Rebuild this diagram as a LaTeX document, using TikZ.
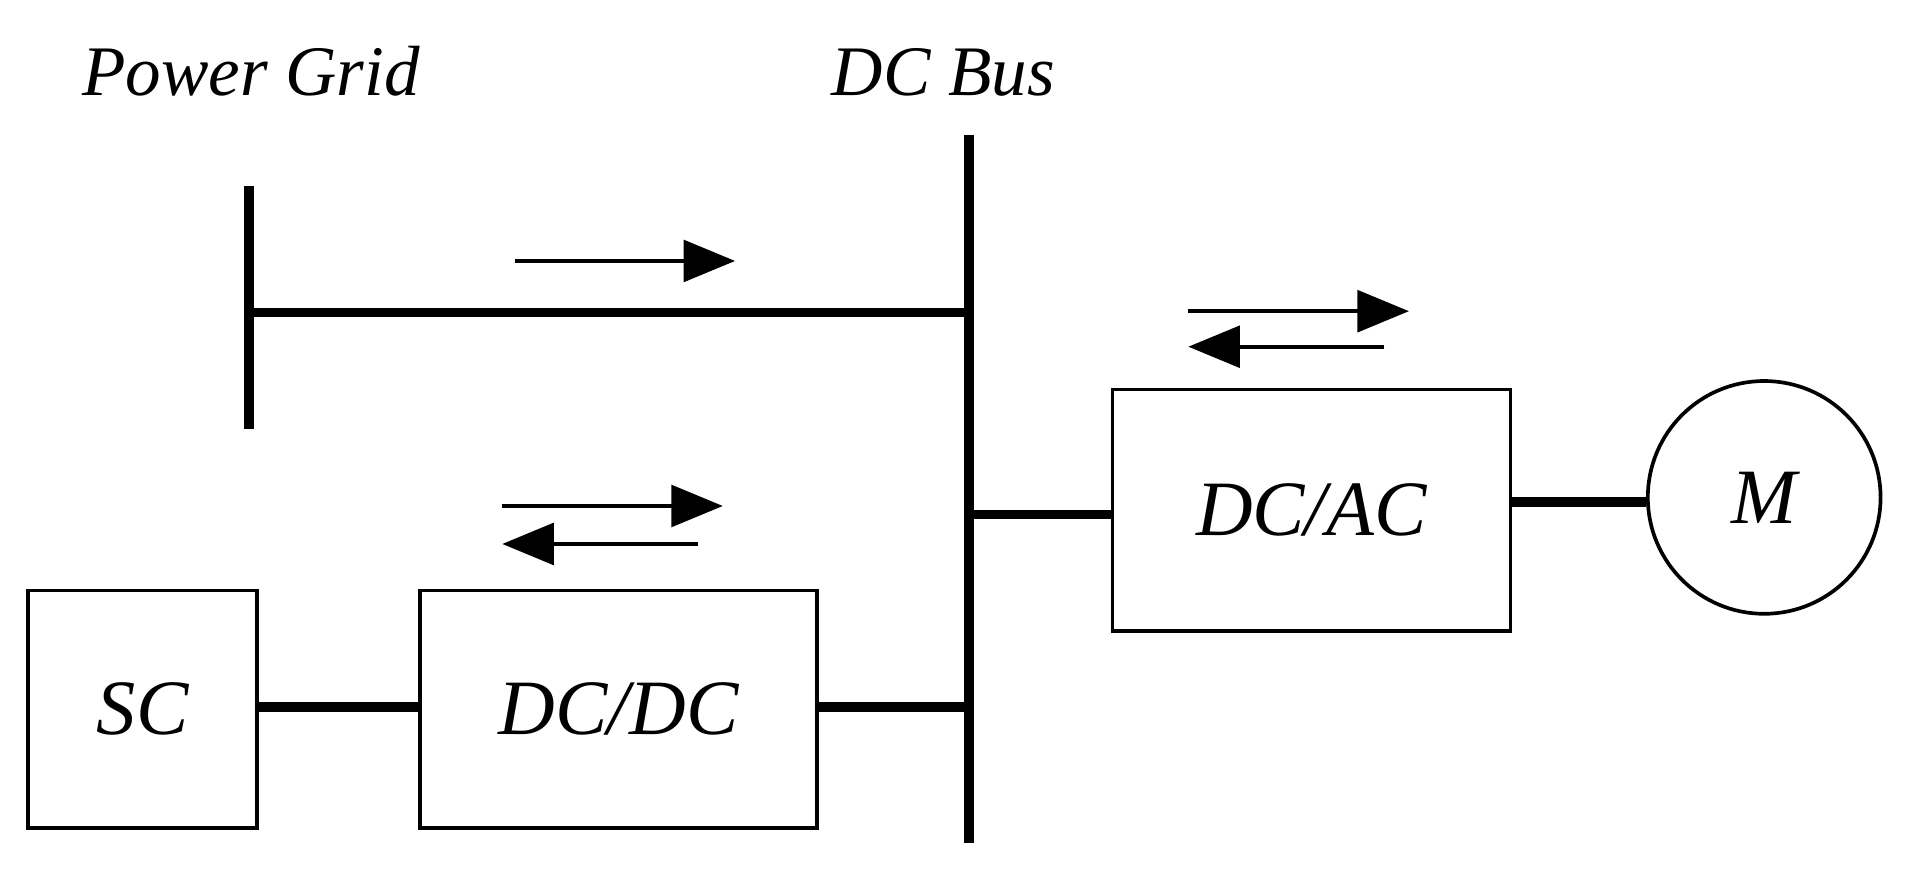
\documentclass[tikz,border=0pt]{standalone}
\usepackage{fontspec}
\setmainfont{Liberation Serif}
\usetikzlibrary{arrows.meta}
\begin{document}
\begin{tikzpicture}[x=1pt,y=-1pt,
  thickl/.style={line width=8pt},
  box/.style={draw,line width=3pt,inner sep=0pt,font=\fontsize{64}{64}\selectfont\itshape},
  lbl/.style={font=\fontsize{58}{58}\selectfont\itshape,inner sep=0pt},
  flow/.style={line width=3pt,-{Triangle[length=42pt,width=34pt]}}]
\useasboundingbox (0,0) rectangle (1568,726);
\node[lbl,anchor=base] (pg) at (205,78) {Power Grid};
\node[lbl,anchor=base] (dcb) at (770,78) {DC Bus};
\coordinate (bt) at (791,110); \coordinate (bb) at (791,688);
\draw[thickl] (bt) -- (bb);
\coordinate (gt) at (203,152); \coordinate (gb) at (203,350);
\draw[thickl] (gt) -- (gb);
\coordinate (gj) at (203,255); \coordinate (bj1) at (791,255);
\draw[thickl] (gj) -- (bj1);
\coordinate (a1s) at (420,213); \coordinate (a1e) at (600,213);
\draw[flow] (a1s) -- (a1e);
\node[box,minimum width=325pt,minimum height=197pt] (dcac) at (1070.5,416.5) {DC/AC};
\node[box,circle,minimum size=190pt] (m) at (1440,406) {M};
\node[box,minimum width=324pt,minimum height=194pt] (dcdc) at (505,579) {DC/DC};
\node[box,minimum width=187pt,minimum height=194pt] (sc) at (116.5,579) {SC};
\coordinate (bj2) at (791,420); \coordinate (bj3) at (791,577);
\draw[thickl] (bj2) -- (dcac.west |- bj2);
\draw[thickl] (dcac.east |- 0,410) -- (m.west |- 0,410);
\draw[thickl] (sc.east |- 0,577) -- (dcdc.west |- 0,577);
\draw[thickl] (dcdc.east |- bj3) -- (bj3);
\coordinate (b1) at (970,254); \coordinate (b2) at (1150,254);
\coordinate (b3) at (1130,283); \coordinate (b4) at (970,283);
\draw[flow] (b1) -- (b2); \draw[flow] (b3) -- (b4);
\coordinate (c1) at (410,413); \coordinate (c2) at (590,413);
\coordinate (c3) at (570,444); \coordinate (c4) at (410,444);
\draw[flow] (c1) -- (c2); \draw[flow] (c3) -- (c4);
\end{tikzpicture}
\end{document}
